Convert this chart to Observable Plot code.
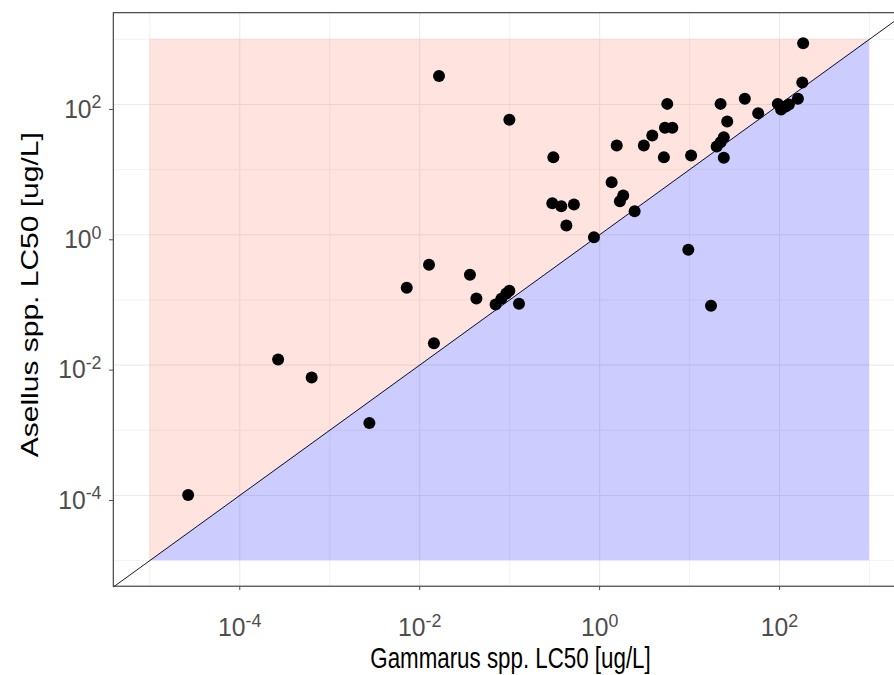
<!DOCTYPE html>
<html>
<head>
<meta charset="utf-8">
<script src="https://cdn.jsdelivr.net/npm/d3@7"></script>
<script src="https://cdn.jsdelivr.net/npm/@observablehq/plot@0.6"></script>
<style>
  html, body { margin: 0; padding: 0; background: #fff; overflow: hidden; }
  #chart { width: 894px; height: 675px; overflow: hidden; }
</style>
</head>
<body>
<div id="chart"></div>
<script>
// Paired LC50 values (ug/L) for the same substances
const gammarusLC50 = [
  2.67e-5, 2.67e-4, 6.3e-4, 0.00276, 0.00718, 0.0127, 0.0144, 0.0164, 0.0362, 0.0427,
  0.0698, 0.0809, 0.0918, 0.0993, 0.127, 0.0993, 0.298, 0.375, 0.518, 0.427,
  0.306, 0.865, 1.36, 1.83, 1.68, 2.45, 1.55, 3.10, 3.85, 5.32,
  6.43, 5.65, 5.18, 10.4, 9.68, 17.3, 22.1, 41.1, 57.9, 26.2,
  24.0, 22.1, 20.0, 24.0, 95.7, 104, 117, 127, 160, 179,
  183
];
const asellusLC50 = [
  1.02e-4, 0.0122, 0.00646, 0.00129, 0.154, 0.347, 0.0217, 272, 0.243, 0.105,
  0.0851, 0.104, 0.126, 0.138, 0.0873, 58.2, 3.05, 2.75, 2.92, 1.39,
  15.5, 0.918, 6.41, 4.01, 3.28, 2.30, 23.4, 23.4, 33.4, 43.9,
  43.9, 102, 15.5, 16.5, 0.589, 0.0815, 102, 122, 73.5, 54.8,
  31.5, 26.4, 22.6, 15.2, 102, 83.8, 93.1, 99.8, 122, 217,
  871
];

// Axis breaks (powers of ten) and titles
const majorExponents = [-4, -2, 0, 2];
const minorExponents = [-5, -3, -1, 1, 3];
const xTitle = "Gammarus spp. LC50 [ug/L]";
const yTitle = "Asellus spp. LC50 [ug/L]";

// Shaded square and panel limits (log10 units)
const shadedExponents = [-5, 3];
const panelExponents = [-5.4, 3.4];

const pow10 = (e) => 10 ** e;
const points = gammarusLC50.map((g, i) => ({gammarus: g, asellus: asellusLC50[i]}));
const shaded = shadedExponents.map(pow10);
const panel = panelExponents.map(pow10);
const majorTicks = majorExponents.map(pow10);
const minorTicks = minorExponents.map(pow10);
const diagonalShade = shaded.map((v) => ({v}));
const diagonalLine = panel.map((v) => ({v}));
const expFormat = (d) => "10^" + Math.round(Math.log10(d));

const font = "'Liberation Sans', Arial, sans-serif";
const grid = "#EBEBEB";

const chart = Plot.plot({
  width: 894,
  height: 675,
  marginLeft: 113,
  marginRight: 0,
  marginTop: 12.5,
  marginBottom: 89,
  style: {fontFamily: font, background: "#fff", overflow: "hidden"},
  x: {type: "log", domain: panel, range: [113.3, 905]},
  y: {type: "log", domain: panel, range: [586.2, 12.7]},
  marks: [
    // panel grid
    Plot.ruleX(minorTicks, {stroke: grid, strokeWidth: 0.6}),
    Plot.ruleY(minorTicks, {stroke: grid, strokeWidth: 0.6}),
    Plot.ruleX(majorTicks, {stroke: grid, strokeWidth: 1.1}),
    Plot.ruleY(majorTicks, {stroke: grid, strokeWidth: 1.1}),
    // Asellus more tolerant (above 1:1) and less tolerant (below 1:1)
    Plot.areaY(diagonalShade, {x: "v", y1: "v", y2: () => shaded[1], fill: "tomato", fillOpacity: 0.18}),
    Plot.areaY(diagonalShade, {x: "v", y1: () => shaded[0], y2: "v", fill: "blue", fillOpacity: 0.2}),
    // 1:1 line
    Plot.line(diagonalLine, {x: "v", y: "v", stroke: "black", strokeWidth: 0.9}),
    Plot.dot(points, {x: "gammarus", y: "asellus", r: 6, fill: "black", stroke: "none"}),
    // panel border
    Plot.rect([0], {x1: () => panel[0], x2: () => panel[1], y1: () => panel[0], y2: () => panel[1],
      fill: "none", stroke: "#333333", strokeWidth: 1.1}),
    Plot.axisX({ticks: majorTicks, tickFormat: expFormat, tickSize: 4, tickPadding: 27,
      fontSize: 26, color: "#4D4D4D", label: null}),
    Plot.axisY({ticks: majorTicks, tickFormat: expFormat, tickSize: 4, tickPadding: 8,
      fontSize: 26, dy: 5, color: "#4D4D4D", label: null}),
    Plot.text([xTitle], {text: (d) => d, frameAnchor: "bottom", textAnchor: "middle", lineAnchor: "middle",
      dx: 6.5, dy: 72, fontSize: 29, fill: "black"}),
    Plot.text([yTitle], {text: (d) => d, frameAnchor: "left", textAnchor: "middle", lineAnchor: "middle",
      rotate: -90, dx: -83, dy: -5, fontSize: 30, fill: "black"})
  ]
});

document.getElementById("chart").append(chart);

const svg = d3.select(chart.tagName === "svg" ? chart : chart.querySelector("svg"));

// Powers of ten as 10 with a raised exponent
svg.selectAll("text").each(function () {
  const m = /^10\^(-?\d+)$/.exec(this.textContent);
  if (!m) return;
  const t = d3.select(this);
  t.text(null).classed("power-label", true);
  t.append("tspan").text("10");
  t.append("tspan").attr("dy", "-0.5em").attr("font-size", "0.72em").text(m[1]);
});

// Narrow letterforms: tick labels slightly condensed, titles more so
svg.selectAll("text").each(function () {
  const sx = this.classList.contains("power-label") ? 0.95 : 0.77;
  const tr = this.getAttribute("transform") || "";
  const rotated = /rotate\(\s*-?90\s*\)/.test(tr);
  const s = rotated ? `scale(1,${sx})` : `scale(${sx},1)`;
  const x = this.getAttribute("x"), y = this.getAttribute("y");
  if (x != null || y != null) {
    const px = +x || 0, py = +y || 0;
    this.setAttribute("transform", `${tr} translate(${px},${py}) ${s} translate(${-px},${-py})`);
  } else {
    this.setAttribute("transform", `${tr} ${s}`);
  }
});
</script>
</body>
</html>
